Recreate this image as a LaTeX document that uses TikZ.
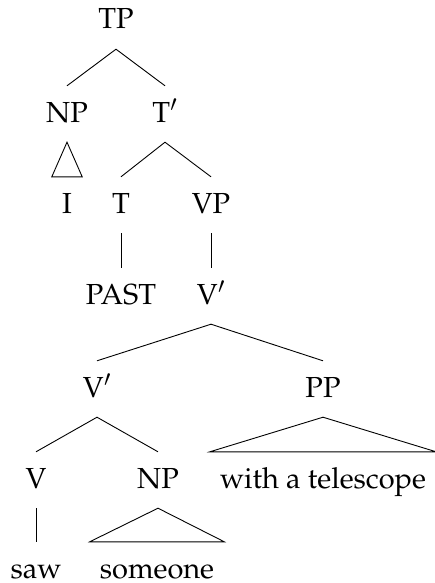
\documentclass[tikz,border=0pt]{standalone}
\usepackage[T1]{fontenc}
\usepackage{mathpazo}
\tikzset{
  lbl/.style={font=\fontsize{29}{35}\selectfont, anchor=base, inner xsep=10pt, inner ysep=6pt, text height=30pt, text depth=14pt},
  leaf/.style={lbl, inner ysep=0pt, text height=36pt, text depth=1pt},
  br/.style={line width=0.9pt, line join=miter}
}
\begin{document}
\begin{tikzpicture}[x=1pt,y=-1pt]
\useasboundingbox (0,0) rectangle (435,583);
\node[lbl] (TP) at (116,29) {TP};
\node[lbl] (NP1) at (67,122) {NP};
\node[lbl] (T1) at (165,122) {T$'$};
\node[lbl, minimum width=30pt] (I) at (67,213) {I};
\node[lbl] (T) at (121,213) {T};
\node[lbl] (VP) at (211,213) {VP};
\node[lbl] (PAST) at (121,304) {PAST};
\node[lbl] (V1) at (211,304) {V$'$};
\node[lbl] (V2) at (97,397) {V$'$};
\node[lbl] (PP) at (323,397) {PP};
\node[lbl] (V) at (36,488) {V};
\node[lbl] (NP2) at (158,488) {NP};
\node[lbl] (with) at (323,488) {with a telescope};
\node[leaf] (saw) at (36,578) {saw};
\node[leaf] (someone) at (157,578) {someone};
\draw[br] (NP1.north) -- (TP.south) -- (T1.north);
\draw[br] (NP1.south) -- (I.north west) -- (I.north east) -- cycle;
\draw[br] (T.north) -- (T1.south) -- (VP.north);
\draw[br] (T.south) -- (PAST.north);
\draw[br] (VP.south) -- (V1.north);
\draw[br] (V2.north) -- (V1.south) -- (PP.north);
\draw[br] (PP.south) -- (with.north west) -- (with.north east) -- cycle;
\draw[br] (V.north) -- (V2.south) -- (NP2.north);
\draw[br] (V.south) -- (saw.north);
\draw[br] (NP2.south) -- (someone.north west) -- (someone.north east) -- cycle;
\end{tikzpicture}
\end{document}
